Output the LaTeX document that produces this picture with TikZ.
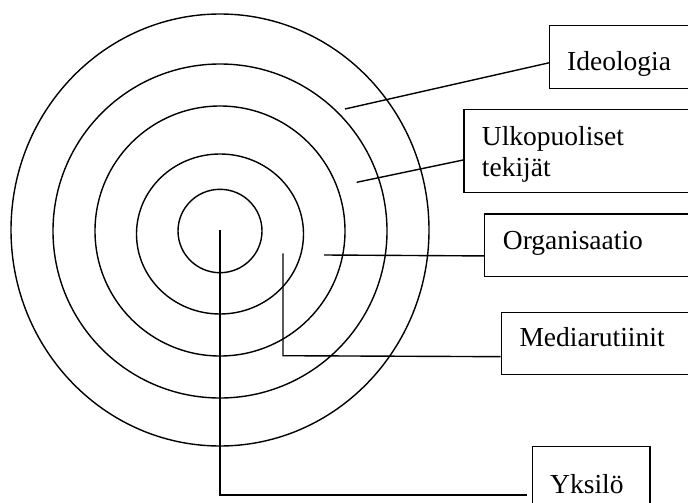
\documentclass[tikz,border=0pt]{standalone}
\usepackage{fontspec}
\setmainfont{Liberation Serif}
\usetikzlibrary{calc}
\begin{document}
\begin{tikzpicture}[x=1pt,y=-1pt,
  ln/.style={line width=1.4pt, black},
  box/.style={draw, line width=1.4pt, rectangle, inner sep=0pt, anchor=north west},
  lbl/.style={inner sep=0pt, anchor=base west, font=\fontsize{27.5}{30.5}\selectfont}]
\useasboundingbox (0,0) rectangle (688,503);
\clip (0,0) rectangle (688,503);
% rings
\draw[ln] (220,230) ellipse [x radius=209, y radius=216];
\draw[ln] (220,231) ellipse [x radius=167, y radius=167];
\draw[ln] (220,231) ellipse [x radius=125, y radius=125];
\draw[ln] (220,234) ellipse [x radius=83.5, y radius=80];
\draw[ln] (220,231) ellipse [x radius=42, y radius=41.7];
% boxes
\node[box, minimum width=160, minimum height=63] (ideo) at (549,25) {};
\node[box, minimum width=240, minimum height=83] (ulko) at (463.3,109) {};
\node[box, minimum width=220, minimum height=62.7] (org) at (484,213.3) {};
\node[box, minimum width=200, minimum height=62.3] (med) at (500.7,311.7) {};
\node[box, minimum width=117.5, minimum height=80] (yks) at (531.7,446) {};
% labels
\node[lbl] (ideot) at (567,70.7) {Ideologia};
\node[lbl, align=left] (ulkot) at (481.7,176) {Ulkopuoliset\\tekijät};
\node[lbl] (orgt) at (502.7,249.3) {Organisaatio};
\node[lbl] (medt) at (519.3,346.7) {Mediarutiinit};
\node[lbl] (ykst) at (550,493.3) {Yksilö};
% connector ends
\coordinate (pideo) at (345,109);
\coordinate (pulko) at (356.7,182.3);
\coordinate (porg) at (324,255);
\coordinate (pmed) at (283,253.3);
\coordinate (pyks) at (220,230);
\coordinate (cmed) at (283,355.7);
\coordinate (cyks) at (220,495);
% connectors
\draw[ln] (pideo) -- ($(ideo.north west)!0.587!(ideo.south west)$);
\draw[ln] (pulko) -- ($(ulko.north west)!0.604!(ulko.south west)$);
\draw[ln] (porg) -- ($(org.north west)!0.665!(org.south west)$);
\draw[ln] (pmed) -- (cmed) -- ($(med.north west)!0.706!(med.south west)$);
\draw[ln, shorten >=5pt] (pyks) -- (cyks) -- ($(yks.north west)+(0,49)$);
\end{tikzpicture}
\end{document}
